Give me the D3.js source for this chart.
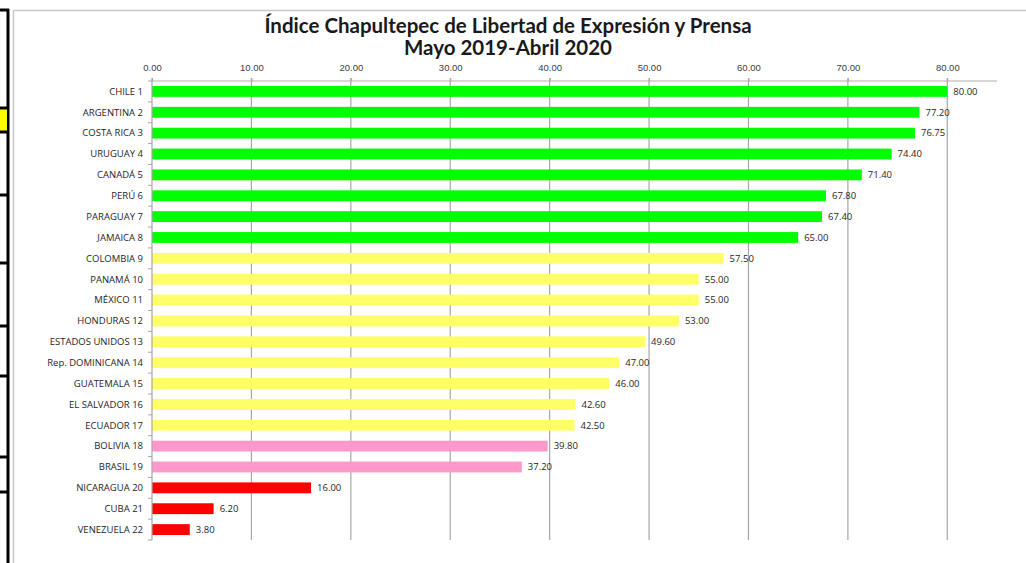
<!DOCTYPE html>
<html>
<head>
<meta charset="utf-8">
<script src="https://cdn.jsdelivr.net/npm/d3@7"></script>
<style>
  body { margin: 0; background: #fff; }
  svg { display: block; font-family: "Open Sans", sans-serif; }
</style>
</head>
<body>
<svg id="chart"></svg>
<script>
// Datos del gráfico
const countries = [
    "CHILE 1", "ARGENTINA 2", "COSTA RICA 3", "URUGUAY 4", "CANADÁ 5", "PERÚ 6",
    "PARAGUAY 7", "JAMAICA 8", "COLOMBIA 9", "PANAMÁ 10", "MÉXICO 11", "HONDURAS 12",
    "ESTADOS UNIDOS 13", "Rep. DOMINICANA 14", "GUATEMALA 15", "EL SALVADOR 16",
    "ECUADOR 17", "BOLIVIA 18", "BRASIL 19", "NICARAGUA 20", "CUBA 21", "VENEZUELA 22"
];
const scores = [
    80.00, 77.20, 76.75, 74.40, 71.40, 67.80, 67.40, 65.00, 57.50, 55.00, 55.00,
    53.00, 49.60, 47.00, 46.00, 42.60, 42.50, 39.80, 37.20, 16.00, 6.20, 3.80
];
const levels = [
    "alta", "alta", "alta", "alta", "alta", "alta", "alta", "alta",
    "media", "media", "media", "media", "media", "media", "media", "media", "media",
    "baja", "baja", "nula", "nula", "nula"
];
const tickValues = [0, 10, 20, 30, 40, 50, 60, 70, 80];
const title = ["Índice Chapultepec de Libertad de Expresión y Prensa", "Mayo 2019-Abril 2020"];

const levelColor = d3.scaleOrdinal()
    .domain(["alta", "media", "baja", "nula"])
    .range(["#00ff00", "#ffff66", "#ff99cc", "#ff0000"]);

const width = 1026;
const height = 563;
const margin = { top: 81, right: 29, bottom: 23, left: 152 };

const svg = d3.select("#chart").attr("width", width).attr("height", height);

// Marco izquierdo (recorte de la página original)
const deco = svg.append("g");
deco.append("line").attr("x1", 8).attr("x2", 8).attr("y1", 9).attr("y2", height)
    .attr("stroke", "#000").attr("stroke-width", 3);
deco.append("rect").attr("x", 0).attr("y", 108).attr("width", 7).attr("height", 24).attr("fill", "#ffff00");
[10, 108, 132, 195, 263, 326, 376, 457, 492].forEach(y => {
    deco.append("line").attr("x1", 0).attr("x2", 9).attr("y1", y).attr("y2", y)
        .attr("stroke", "#000").attr("stroke-width", 3);
});

// Borde del área del gráfico
svg.append("path")
    .attr("d", `M13.5,${height} V10.5 H${width}`)
    .attr("fill", "none")
    .attr("stroke", "#c8c8c8")
    .attr("stroke-width", 1.5);

const x = d3.scaleLinear()
    .domain([0, 85])
    .range([margin.left, width - margin.right]);

const y = d3.scaleBand()
    .domain(countries)
    .range([margin.top, height - margin.bottom])
    .paddingInner(0.48)
    .paddingOuter(0.24);

const plotBottom = height - margin.bottom;

// Título
svg.append("text")
    .attr("x", 508)
    .attr("y", 33)
    .attr("text-anchor", "middle")
    .style("font-family", "Lato, sans-serif")
    .style("font-weight", "bold")
    .style("font-size", "20.5px")
    .attr("fill", "#1a1a1a")
    .selectAll("tspan")
    .data(title)
    .join("tspan")
    .attr("x", 508)
    .attr("dy", (d, i) => i === 0 ? 0 : 22)
    .text(d => d);

// Líneas de cuadrícula
svg.append("g")
    .selectAll("line")
    .data(tickValues.slice(1))
    .join("line")
    .attr("x1", d => x(d)).attr("x2", d => x(d))
    .attr("y1", margin.top - 3).attr("y2", plotBottom)
    .attr("stroke", "#a6a6a6")
    .attr("stroke-width", 1.2);

// Eje superior
const xAxis = svg.append("g")
    .attr("transform", `translate(0,${margin.top})`)
    .call(d3.axisTop(x).tickValues(tickValues).tickFormat(d3.format(".2f")).tickSize(3).tickPadding(7));
xAxis.select(".domain").attr("stroke", "#b0b0b0").attr("stroke-width", 1.2).attr("d", `M${x(0)},0H${x(85)}`);
xAxis.selectAll(".tick line").attr("stroke", "#a6a6a6");
xAxis.selectAll(".tick text")
    .attr("fill", "#404040")
    .style("font-size", "9.5px");

// Barras
svg.append("g")
    .selectAll("rect")
    .data(countries)
    .join("rect")
    .attr("x", x(0))
    .attr("y", d => y(d))
    .attr("width", (d, i) => x(scores[i]) - x(0))
    .attr("height", y.bandwidth())
    .attr("fill", (d, i) => levelColor(levels[i]));

// Eje de categorías
const step = y.step();
const yAxis = svg.append("g");
yAxis.append("line")
    .attr("x1", x(0)).attr("x2", x(0))
    .attr("y1", margin.top - 3).attr("y2", plotBottom)
    .attr("stroke", "#a6a6a6").attr("stroke-width", 1.2);
yAxis.selectAll(".tk")
    .data(d3.range(countries.length + 1))
    .join("line")
    .attr("class", "tk")
    .attr("x1", x(0) - 4).attr("x2", x(0))
    .attr("y1", i => margin.top + i * step).attr("y2", i => margin.top + i * step)
    .attr("stroke", "#a6a6a6");
yAxis.selectAll("text")
    .data(countries)
    .join("text")
    .attr("x", x(0) - 9)
    .attr("y", d => y(d) + y.bandwidth() / 2)
    .attr("dy", "0.35em")
    .attr("text-anchor", "end")
    .attr("fill", "#262626")
    .style("font-size", "9.5px")
    .text(d => d);

// Etiquetas de valores
svg.append("g")
    .selectAll("text")
    .data(countries)
    .join("text")
    .attr("x", (d, i) => x(scores[i]) + 6)
    .attr("y", d => y(d) + y.bandwidth() / 2)
    .attr("dy", "0.35em")
    .attr("fill", "#262626")
    .style("font-size", "9.5px")
    .text((d, i) => d3.format(".2f")(scores[i]));
</script>
</body>
</html>
